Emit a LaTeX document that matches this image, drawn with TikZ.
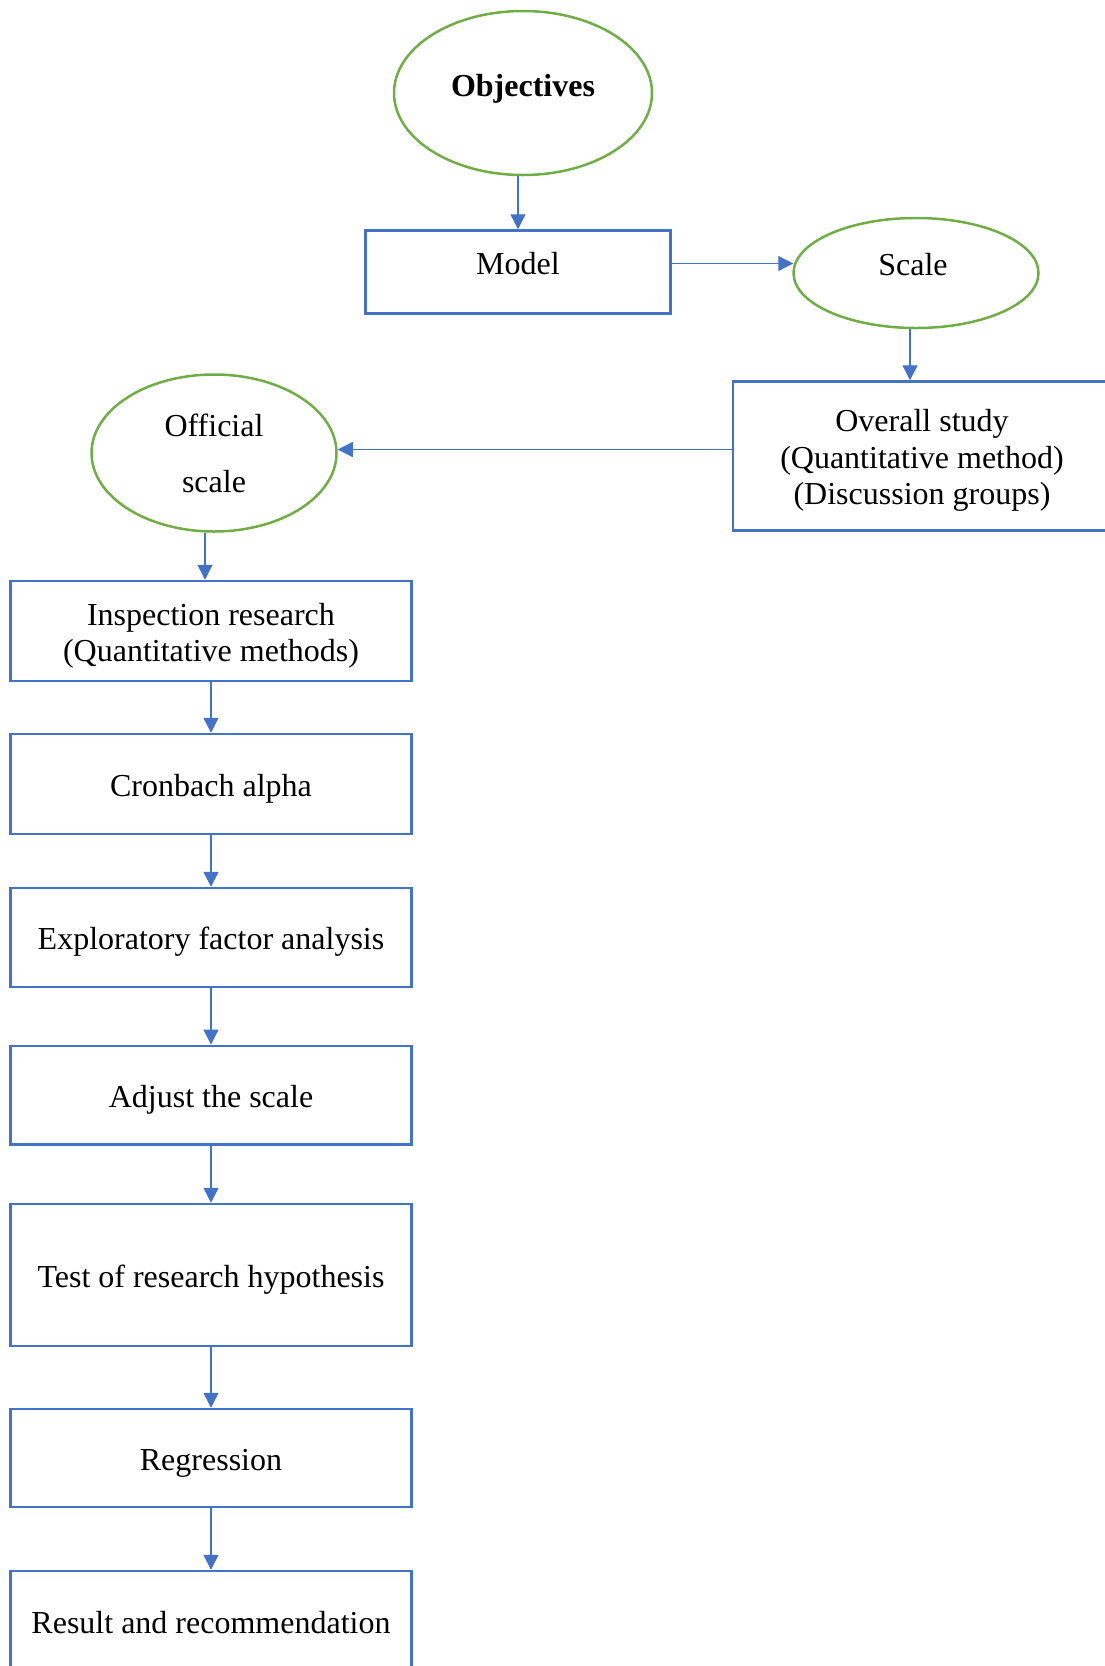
\documentclass[tikz,border=0pt]{standalone}
\usepackage{fontspec}
\setmainfont{Liberation Serif}
\usetikzlibrary{arrows.meta,shapes.geometric,calc}
\definecolor{boxblue}{HTML}{4472C4}
\definecolor{ellgreen}{HTML}{70AD47}
\begin{document}
\begin{tikzpicture}[x=1pt,y=-1pt,
  every node/.style={font=\fontsize{32}{36.5}\selectfont},
  box/.style={draw=boxblue,line width=2.5pt,rectangle,inner sep=0pt},
  txt/.style={inner sep=0pt,align=center},
  oval/.style={draw=ellgreen,line width=2.5pt,ellipse,inner sep=0pt,align=center},
  conn/.style={draw=boxblue,line width=1.3pt,-{Triangle[length=15pt,width=15pt]}}]
\useasboundingbox (0,0) rectangle (1105,1666);
% top part
\node[oval,minimum width=258,minimum height=164,text height=22pt,text depth=15pt,font=\fontsize{32}{36.5}\selectfont\bfseries] (obj) at (523,93) {Objectives};
\node[box,minimum width=305,minimum height=83] (model) at (518,272) {};
\node[txt,text height=22pt,text depth=0pt] (modelt) at ([yshift=8.5pt]model.center) {Model};
\node[oval,minimum width=245,minimum height=110,text height=22pt,text depth=17pt] (scale) at (916,273) {\hspace*{-6pt}Scale};
\node[box,minimum width=378,minimum height=149] (overall) at (922,456) {};
\node[txt] (overallt) at ([yshift=-4.5pt]overall.center) {Overall study\\(Quantitative method)\\(Discussion groups)};
\node[oval,minimum width=245,minimum height=157,font=\fontsize{32}{56}\selectfont] (official) at (214,453) {\raisebox{0pt}{Official}\\scale};
% left column
\node[box,minimum width=401,minimum height=100] (insp) at (211,631) {};
\node[txt] (inspt) at ([yshift=-5pt]insp.center) {Inspection research\\(Quantitative methods)};
\node[box,minimum width=401,minimum height=100] (cron) at (211,784) {};
\node[txt] (cront) at ([yshift=-5pt]cron.center) {Cronbach alpha};
\node[box,minimum width=401,minimum height=99] (expl) at (211,937.5) {};
\node[txt] (explt) at ([yshift=-4.5pt]expl.center) {Exploratory factor analysis};
\node[box,minimum width=401,minimum height=98.5] (adj) at (211,1095) {};
\node[txt] (adjt) at ([yshift=-4.5pt]adj.center) {Adjust the scale};
\node[box,minimum width=401,minimum height=142] (test) at (211,1275) {};
\node[txt] (testt) at ([yshift=-4.5pt]test.center) {Test of research hypothesis};
\node[box,minimum width=401,minimum height=98] (regr) at (211,1458) {};
\node[txt] (regrt) at ([yshift=-5pt]regr.center) {Regression};
\node[box,minimum width=401,minimum height=100] (res) at (211,1621) {};
\node[txt] (rest) at ([yshift=-1.5pt]res.center) {Result and recommendation};
% connectors
\draw[conn] (obj.south -| model.north) -- (model.north);
\draw[conn] ([yshift=8.5pt]model.east) -- ([yshift=8.5pt,xshift=1pt]model.east -| scale.west);
\draw[conn] ([xshift=-6pt]scale.south) -- ([xshift=-6pt]scale.south |- overall.north);
\draw[conn] ([yshift=3.5pt]official.east -| overall.west) -- ([yshift=3.5pt]official.east);
\draw[conn] ([xshift=-9pt]official.south) -- ([xshift=-9pt]official.south |- insp.north);
\draw[conn] (insp.south) -- (cron.north);
\draw[conn] (cron.south) -- (expl.north);
\draw[conn] (expl.south) -- (adj.north);
\draw[conn] (adj.south) -- (test.north);
\draw[conn] (test.south) -- (regr.north);
\draw[conn] (regr.south) -- (res.north);
\end{tikzpicture}
\end{document}
